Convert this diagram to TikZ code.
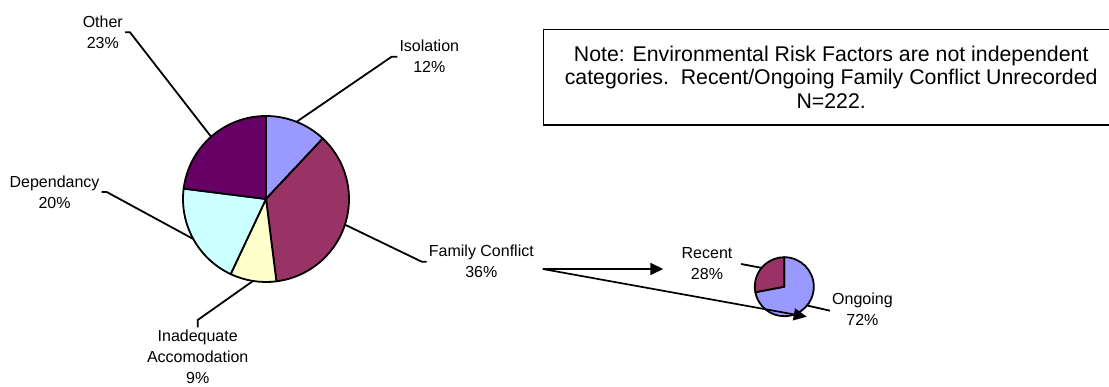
\documentclass[tikz,border=0pt]{standalone}
\usepackage{fontspec}
\setmainfont{Liberation Sans}
\usetikzlibrary{arrows.meta,calc}
\definecolor{cIso}{HTML}{9999FF}
\definecolor{cFam}{HTML}{993366}
\definecolor{cIna}{HTML}{FFFFCC}
\definecolor{cDep}{HTML}{CCFFFF}
\definecolor{cOth}{HTML}{660066}
\begin{document}
\begin{tikzpicture}[x=1pt,y=1pt,
  lab/.style={font=\fontsize{16}{21}\selectfont, align=center, inner sep=2pt},
  lead/.style={line width=1.8pt, line join=miter},
  slice/.style={draw=black, line width=1.8pt, line join=round},
  arr/.style={line width=1.7pt, -{Triangle[length=13pt,width=12pt]}}]
\useasboundingbox (0,0) rectangle (1109,-387);

% centres
\coordinate (C) at (266,-199);
\coordinate (S) at (784.3,-286.7);

% labels of the main pie
\node[lab, anchor=west] (iso) at (397.3,-56.7) {Isolation\\12\%};
\node[lab, anchor=east] (oth) at (125,-32.3) {Other\\23\%};
\node[lab, anchor=east] (dep) at (101.7,-192) {Dependancy\\20\%};
\node[lab, anchor=west] (fam) at (426.7,-261.7) {Family Conflict\\36\%};
\node[lab, anchor=north] (ina) at (197.7,-327.5) {Inadequate\\Accomodation\\9\%};

% leader points
\coordinate (isoP) at ($(C)+(68.4:83pt)$);
\coordinate (famP) at ($(C)+(-18:83pt)$);
\coordinate (inaP) at ($(C)+(-99:83pt)$);
\coordinate (depP) at ($(C)+(-151.2:83pt)$);
\coordinate (othP) at ($(C)+(131.4:83pt)$);

\draw[lead] (isoP) -- ([xshift=-5.6pt]iso.west) -- (iso.west);
\draw[lead] (othP) -- ([xshift=5pt]oth.east) -- (oth.east);
\draw[lead] (depP) -- ([xshift=5pt]dep.east) -- (dep.east);
\draw[lead] (famP) -- ([xshift=-5pt]fam.west) -- (fam.west);
\draw[lead] (inaP) -- ([yshift=7.5pt]ina.north) -- (ina.north);

% main pie
\draw[slice, fill=cIso] (C) -- ++(90:83pt) arc[start angle=90, end angle=46.8, radius=83pt] -- cycle;
\draw[slice, fill=cFam] (C) -- ++(46.8:83pt) arc[start angle=46.8, end angle=-82.8, radius=83pt] -- cycle;
\draw[slice, fill=cIna] (C) -- ++(-82.8:83pt) arc[start angle=-82.8, end angle=-115.2, radius=83pt] -- cycle;
\draw[slice, fill=cDep] (C) -- ++(-115.2:83pt) arc[start angle=-115.2, end angle=-187.2, radius=83pt] -- cycle;
\draw[slice, fill=cOth] (C) -- ++(-187.2:83pt) arc[start angle=-187.2, end angle=-270, radius=83pt] -- cycle;

% small pie labels and leaders
\node[lab] (rec) at (707,-264) {Recent\\28\%};
\node[lab, anchor=west] (ong) at (830,-309) {Ongoing\\72\%};
\coordinate (recP) at ($(S)+(140.4:29.5pt)$);
\coordinate (ongP) at ($(S)+(-39.6:29.5pt)$);
\draw[lead] ([xshift=6.6pt]rec.east) -- (recP);
\draw[lead] (ongP) -- ([yshift=-1.7pt]ong.west);

% small pie
\draw[slice, fill=cIso] (S) -- ++(90:29.5pt) arc[start angle=90, end angle=-169.2, radius=29.5pt] -- cycle;
\draw[slice, fill=cFam] (S) -- ++(-169.2:29.5pt) arc[start angle=-169.2, end angle=-270, radius=29.5pt] -- cycle;

% arrows
\coordinate (src) at (542.7,-269);
\coordinate (t1) at (663.3,-269);
\coordinate (t2) at (806.7,-316.7);
\draw[arr] (src) -- (t1);
\draw[arr] (src) -- (t2);

% note box
\node[draw, line width=1.6pt, minimum width=575.7pt, minimum height=95.7pt, inner sep=0pt,
      font=\fontsize{21.3}{23.6}\selectfont, align=center] (note) at (831.2,-77.2)
  {Note: Environmental Risk Factors are not independent\\categories.\ \ Recent/Ongoing Family Conflict Unrecorded\\N=222.};
\end{tikzpicture}
\end{document}
